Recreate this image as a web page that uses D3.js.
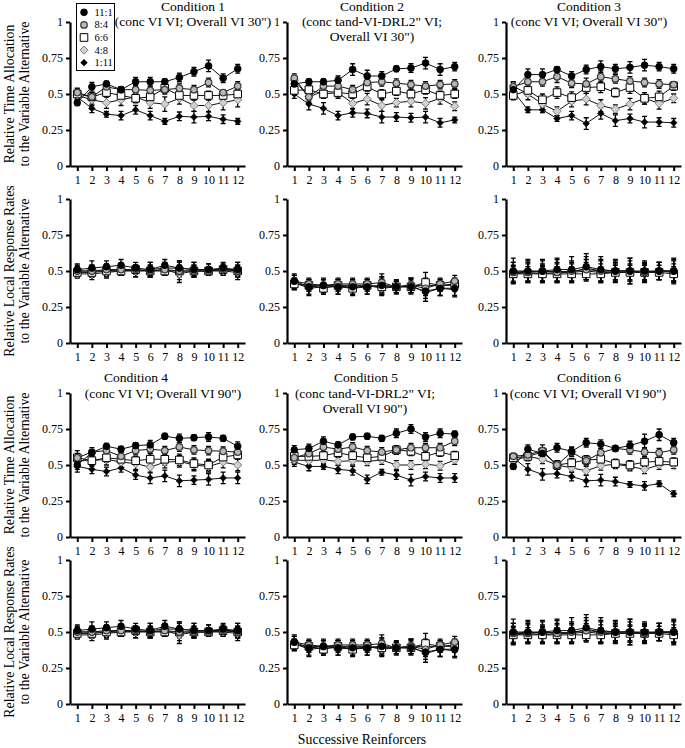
<!DOCTYPE html>
<html>
<head>
<meta charset="utf-8">
<script src="https://cdn.jsdelivr.net/npm/d3@7"></script>
<style>
body { margin: 0; background: #fff; }
svg text { font-family: "Liberation Serif", "Times New Roman", serif; fill: #000; }
</style>
</head>
<body>
<svg id="chart" width="685" height="748"></svg>
<script>
// categories
const reinforcers = [1, 2, 3, 4, 5, 6, 7, 8, 9, 10, 11, 12];
const seriesNames = ["11:1", "8:4", "6:6", "4:8", "1:11"];
const yTicks = [0, 0.25, 0.5, 0.75, 1];

const titles = [
    ["Condition 1", "(conc VI VI; Overall VI 30\")"],
    ["Condition 2", "(conc tand-VI-DRL2\" VI;", "Overall VI 30\")"],
    ["Condition 3", "(conc VI VI; Overall VI 30\")"],
    ["Condition 4", "(conc VI VI; Overall VI 90\")"],
    ["Condition 5", "(conc tand-VI-DRL2\" VI;", "Overall VI 90\")"],
    ["Condition 6", "(conc VI VI; Overall VI 90\")"]
];

// relative time allocation, rows = 11:1, 8:4, 6:6, 4:8, 1:11
const time1 = [
    [0.44,0.55,0.57,0.53,0.585,0.585,0.585,0.615,0.655,0.695,0.61,0.675],
    [0.51,0.48,0.55,0.53,0.53,0.525,0.53,0.54,0.53,0.58,0.51,0.555],
    [0.50,0.48,0.51,0.49,0.47,0.48,0.54,0.49,0.49,0.49,0.49,0.50],
    [0.49,0.46,0.44,0.46,0.48,0.44,0.43,0.47,0.42,0.42,0.44,0.46],
    [0.48,0.40,0.36,0.35,0.39,0.35,0.31,0.345,0.34,0.345,0.325,0.31]
];
const time1Err = [
    [0.02,0.03,0.02,0.02,0.03,0.03,0.02,0.03,0.03,0.04,0.03,0.03],
    [0.03,0.03,0.03,0.02,0.03,0.03,0.03,0.03,0.03,0.03,0.02,0.03],
    [0.03,0.03,0.03,0.03,0.03,0.03,0.03,0.03,0.03,0.03,0.03,0.03],
    [0.03,0.04,0.04,0.04,0.04,0.04,0.05,0.04,0.04,0.04,0.05,0.05],
    [0.03,0.03,0.02,0.03,0.03,0.03,0.02,0.03,0.04,0.03,0.03,0.02]
];
const time2 = [
    [0.57,0.585,0.585,0.595,0.67,0.625,0.625,0.675,0.68,0.715,0.67,0.69],
    [0.61,0.48,0.555,0.555,0.53,0.58,0.585,0.575,0.565,0.555,0.565,0.57],
    [0.525,0.53,0.50,0.51,0.50,0.55,0.50,0.52,0.50,0.53,0.49,0.50],
    [0.595,0.48,0.52,0.51,0.435,0.465,0.42,0.44,0.45,0.435,0.47,0.415],
    [0.50,0.43,0.40,0.35,0.37,0.365,0.34,0.34,0.335,0.34,0.30,0.32]
];
const time2Err = [
    [0.03,0.02,0.02,0.03,0.04,0.04,0.03,0.02,0.03,0.04,0.04,0.03],
    [0.03,0.03,0.03,0.03,0.03,0.03,0.03,0.03,0.03,0.03,0.03,0.03],
    [0.03,0.03,0.03,0.03,0.03,0.03,0.03,0.03,0.03,0.03,0.03,0.03],
    [0.03,0.04,0.04,0.04,0.04,0.04,0.04,0.03,0.04,0.04,0.04,0.03],
    [0.03,0.04,0.04,0.03,0.03,0.03,0.04,0.03,0.03,0.04,0.03,0.02]
];
const time3 = [
    [0.53,0.635,0.635,0.67,0.625,0.67,0.69,0.675,0.685,0.70,0.69,0.675],
    [0.55,0.585,0.585,0.62,0.575,0.57,0.62,0.605,0.59,0.58,0.57,0.565],
    [0.49,0.525,0.46,0.51,0.475,0.545,0.55,0.51,0.545,0.47,0.48,0.555],
    [0.555,0.50,0.43,0.38,0.45,0.465,0.42,0.395,0.43,0.47,0.435,0.47],
    [0.52,0.39,0.39,0.33,0.35,0.295,0.365,0.315,0.33,0.305,0.305,0.30]
];
const time3Err = [
    [0.03,0.04,0.04,0.02,0.03,0.03,0.04,0.03,0.04,0.04,0.03,0.03],
    [0.03,0.03,0.03,0.04,0.03,0.04,0.04,0.03,0.03,0.03,0.03,0.02],
    [0.03,0.04,0.04,0.04,0.04,0.04,0.04,0.03,0.04,0.04,0.04,0.03],
    [0.03,0.04,0.04,0.03,0.04,0.04,0.04,0.03,0.04,0.04,0.04,0.03],
    [0.03,0.02,0.02,0.02,0.03,0.04,0.04,0.04,0.03,0.04,0.03,0.03]
];
const time4 = [
    [0.50,0.585,0.63,0.61,0.635,0.64,0.70,0.685,0.69,0.695,0.685,0.63],
    [0.55,0.59,0.60,0.56,0.60,0.61,0.60,0.625,0.605,0.60,0.595,0.59],
    [0.55,0.53,0.55,0.54,0.53,0.54,0.54,0.535,0.51,0.50,0.555,0.57],
    [0.53,0.53,0.54,0.52,0.51,0.485,0.52,0.525,0.50,0.49,0.52,0.50],
    [0.49,0.47,0.455,0.48,0.43,0.41,0.425,0.39,0.395,0.40,0.41,0.41]
];
const time4Err = [
    [0.03,0.02,0.02,0.02,0.02,0.03,0.02,0.03,0.02,0.03,0.02,0.03],
    [0.03,0.03,0.03,0.03,0.03,0.03,0.03,0.03,0.03,0.03,0.03,0.03],
    [0.05,0.03,0.03,0.03,0.03,0.04,0.04,0.04,0.04,0.04,0.04,0.03],
    [0.04,0.04,0.04,0.04,0.04,0.04,0.04,0.04,0.04,0.04,0.04,0.04],
    [0.04,0.03,0.03,0.03,0.03,0.04,0.04,0.04,0.03,0.04,0.04,0.04]
];
const time5 = [
    [0.605,0.615,0.665,0.64,0.695,0.70,0.685,0.72,0.75,0.695,0.72,0.715],
    [0.55,0.58,0.625,0.61,0.625,0.60,0.59,0.605,0.62,0.62,0.62,0.665],
    [0.56,0.56,0.565,0.585,0.565,0.55,0.56,0.605,0.595,0.56,0.59,0.565],
    [0.535,0.53,0.535,0.525,0.53,0.525,0.535,0.50,0.50,0.505,0.495,0.535],
    [0.52,0.49,0.49,0.47,0.46,0.40,0.45,0.43,0.395,0.42,0.41,0.41]
];
const time5Err = [
    [0.03,0.03,0.03,0.02,0.02,0.02,0.02,0.03,0.03,0.03,0.03,0.02],
    [0.03,0.03,0.03,0.03,0.03,0.03,0.03,0.03,0.03,0.03,0.03,0.03],
    [0.03,0.03,0.03,0.03,0.03,0.03,0.03,0.03,0.03,0.03,0.03,0.03],
    [0.03,0.03,0.03,0.03,0.03,0.03,0.03,0.03,0.03,0.03,0.03,0.03],
    [0.03,0.03,0.02,0.03,0.03,0.03,0.02,0.03,0.04,0.03,0.03,0.03]
];
const time6 = [
    [0.49,0.61,0.58,0.62,0.595,0.655,0.645,0.615,0.635,0.665,0.71,0.655],
    [0.56,0.57,0.60,0.50,0.59,0.53,0.585,0.615,0.605,0.59,0.585,0.605],
    [0.55,0.56,0.59,0.50,0.515,0.535,0.54,0.51,0.50,0.52,0.525,0.52],
    [0.53,0.56,0.54,0.50,0.48,0.46,0.495,0.505,0.49,0.47,0.50,0.505],
    [0.55,0.47,0.435,0.44,0.42,0.39,0.395,0.385,0.365,0.355,0.37,0.30]
];
const time6Err = [
    [0.02,0.03,0.04,0.03,0.03,0.03,0.03,0.02,0.03,0.05,0.04,0.03],
    [0.02,0.03,0.04,0.03,0.03,0.03,0.03,0.02,0.03,0.03,0.03,0.03],
    [0.02,0.03,0.03,0.03,0.03,0.03,0.03,0.03,0.03,0.03,0.03,0.03],
    [0.02,0.03,0.03,0.03,0.03,0.03,0.03,0.03,0.03,0.03,0.03,0.03],
    [0.03,0.04,0.04,0.03,0.03,0.04,0.04,0.03,0.02,0.03,0.02,0.02]
];

// relative local response rates
const local1 = [
    [0.51,0.52,0.53,0.54,0.52,0.51,0.54,0.52,0.51,0.51,0.52,0.51],
    [0.50,0.50,0.51,0.51,0.51,0.50,0.51,0.50,0.50,0.50,0.51,0.50],
    [0.49,0.49,0.50,0.50,0.51,0.50,0.50,0.50,0.50,0.50,0.51,0.50],
    [0.48,0.48,0.49,0.50,0.50,0.50,0.51,0.48,0.50,0.50,0.50,0.49],
    [0.50,0.50,0.50,0.51,0.50,0.51,0.52,0.52,0.51,0.51,0.51,0.51]
];
const local1Err = [
    [0.04,0.05,0.04,0.04,0.04,0.05,0.04,0.05,0.05,0.04,0.04,0.05],
    [0.03,0.04,0.04,0.04,0.03,0.04,0.04,0.06,0.04,0.03,0.03,0.04],
    [0.03,0.03,0.03,0.03,0.03,0.03,0.03,0.04,0.03,0.03,0.03,0.03],
    [0.03,0.04,0.04,0.03,0.04,0.04,0.04,0.06,0.04,0.03,0.03,0.05],
    [0.04,0.04,0.04,0.04,0.04,0.05,0.04,0.05,0.05,0.04,0.04,0.05]
];
const local2 = [
    [0.43,0.39,0.40,0.39,0.39,0.39,0.40,0.39,0.39,0.36,0.38,0.38],
    [0.43,0.41,0.40,0.41,0.41,0.41,0.42,0.39,0.40,0.38,0.41,0.43],
    [0.41,0.40,0.38,0.40,0.38,0.40,0.39,0.39,0.39,0.42,0.40,0.41],
    [0.41,0.40,0.40,0.40,0.40,0.40,0.38,0.39,0.40,0.40,0.40,0.40],
    [0.42,0.38,0.39,0.39,0.38,0.39,0.40,0.39,0.40,0.35,0.38,0.37]
];
const local2Err = [
    [0.05,0.05,0.05,0.05,0.05,0.05,0.05,0.05,0.05,0.05,0.05,0.05],
    [0.04,0.04,0.04,0.04,0.04,0.04,0.06,0.04,0.05,0.05,0.04,0.04],
    [0.04,0.04,0.04,0.04,0.04,0.04,0.05,0.04,0.04,0.07,0.04,0.04],
    [0.04,0.04,0.04,0.04,0.04,0.04,0.05,0.04,0.05,0.05,0.04,0.04],
    [0.05,0.05,0.05,0.05,0.05,0.05,0.06,0.04,0.05,0.06,0.05,0.05]
];
const local3 = [
    [0.50,0.50,0.50,0.51,0.51,0.53,0.51,0.50,0.50,0.50,0.50,0.50],
    [0.49,0.49,0.50,0.49,0.50,0.51,0.50,0.50,0.50,0.49,0.50,0.50],
    [0.48,0.48,0.48,0.48,0.48,0.48,0.48,0.49,0.49,0.49,0.49,0.48],
    [0.48,0.49,0.48,0.49,0.49,0.50,0.49,0.49,0.49,0.49,0.50,0.49],
    [0.49,0.50,0.49,0.50,0.49,0.52,0.50,0.50,0.50,0.49,0.50,0.50]
];
const local3Err = [
    [0.09,0.08,0.08,0.08,0.09,0.09,0.09,0.08,0.09,0.07,0.06,0.09],
    [0.07,0.07,0.07,0.07,0.07,0.07,0.07,0.06,0.07,0.06,0.06,0.07],
    [0.05,0.05,0.05,0.05,0.05,0.05,0.05,0.05,0.05,0.05,0.05,0.05],
    [0.06,0.06,0.06,0.06,0.06,0.06,0.06,0.06,0.06,0.06,0.06,0.06],
    [0.07,0.07,0.06,0.08,0.07,0.08,0.08,0.07,0.09,0.07,0.06,0.08]
];
// the lower local-rate panels repeat the upper ones in the figure
const local4 = local1.map(r => r.slice());
const local4Err = local1Err.map(r => r.slice());
const local5 = local2.map(r => r.slice());
const local5Err = local2Err.map(r => r.slice());
const local6 = local3.map(r => r.slice());
const local6Err = local3Err.map(r => r.slice());

const svg = d3.select("#chart");

const colX = [70, 287, 506];
const rowTop = [22, 199, 393, 560];
const plotW = 175, plotH = 144;

// marker styles per series
const markers = [
    {shape: "circle", r: 3.4, fill: "#000", stroke: "#000", sw: 0.8},
    {shape: "circle", r: 3.3, fill: "#b8b8b8", stroke: "#3c3c3c", sw: 1.2},
    {shape: "square", r: 3.8, fill: "#fff", stroke: "#000", sw: 1},
    {shape: "diamond", r: 4.1, fill: "#d0d0d0", stroke: "#808080", sw: 1},
    {shape: "diamond", r: 3.4, fill: "#000", stroke: "#000", sw: 0.5}
];

function markerPath(m){
    let r = m.r;
    if (m.shape == "circle") return `M${r},0A${r},${r},0,1,1,${-r},0A${r},${r},0,1,1,${r},0Z`;
    if (m.shape == "square") return `M${-r},${-r}H${r}V${r}H${-r}Z`;
    return `M0,${-r}L${r},0L0,${r}L${-r},0Z`;
}

function drawPanel(col, row, values, errors){
    let x = d3.scaleLinear().domain([0.5, 12.5]).range([colX[col], colX[col] + plotW]);
    let y = d3.scaleLinear().domain([0, 1]).range([rowTop[row] + plotH, rowTop[row]]);
    let g = svg.append("g");

    let line = d3.line().x((d, i) => x(reinforcers[i])).y(d => y(d));
    values.forEach((vals, s) => {
        g.append("path")
            .attr("d", line(vals))
            .attr("fill", "none")
            .attr("stroke", "#111")
            .attr("stroke-width", 1);
    });

    values.forEach((vals, s) => {
        vals.forEach((v, i) => {
            let e = errors[s][i];
            let cx = x(reinforcers[i]);
            g.append("path")
                .attr("d", `M${cx},${y(v - e)}V${y(v + e)}M${cx - 2.5},${y(v - e)}H${cx + 2.5}M${cx - 2.5},${y(v + e)}H${cx + 2.5}`)
                .attr("stroke", "#000")
                .attr("stroke-width", 1.3)
                .attr("fill", "none");
        });
    });

    for (let s = values.length - 1; s >= 0; s--) {
        let m = markers[s];
        values[s].forEach((v, i) => {
            g.append("path")
                .attr("d", markerPath(m))
                .attr("transform", `translate(${x(reinforcers[i])},${y(v)})`)
                .attr("fill", m.fill)
                .attr("stroke", m.stroke)
                .attr("stroke-width", m.sw);
        });
    }

    let yAxis = g.append("g")
        .attr("transform", `translate(${colX[col]},0)`)
        .call(d3.axisLeft(y).tickValues(yTicks).tickSize(4).tickSizeOuter(0).tickPadding(3)
            .tickFormat(d => String(d)));
    let xAxis = g.append("g")
        .attr("transform", `translate(0,${rowTop[row] + plotH})`)
        .call(d3.axisBottom(x).tickValues(reinforcers).tickSize(5).tickSizeOuter(0).tickPadding(4));
    [yAxis, xAxis].forEach(a => {
        a.select(".domain").attr("stroke-width", 2.2).attr("stroke", "#000");
        a.selectAll(".tick line").attr("stroke-width", 2).attr("stroke", "#000");
        a.selectAll(".tick text").style("font-size", "12px").attr("fill", "#000")
            .style("font-family", '"Liberation Serif", "Times New Roman", serif');
    });
    xAxis.selectAll(".tick text").attr("dy", "0.71em");
}

const timeData = [time1, time2, time3, time4, time5, time6];
const timeErr = [time1Err, time2Err, time3Err, time4Err, time5Err, time6Err];
const localData = [local1, local2, local3, local4, local5, local6];
const localErr = [local1Err, local2Err, local3Err, local4Err, local5Err, local6Err];

for (let c = 0; c < 6; c++) {
    let col = c % 3;
    let block = Math.floor(c / 3);
    drawPanel(col, block * 2, timeData[c], timeErr[c]);
    drawPanel(col, block * 2 + 1, localData[c], localErr[c]);
}

// panel titles
const titleX = [[193, 372, 589], [136, 366, 589]];
const subX = [[193, 372, 589], [163, 365, 588]];
const titleY = [[11, 26, 41], [382, 398, 413]];
titles.forEach((t, c) => {
    let col = c % 3, block = Math.floor(c / 3);
    t.forEach((txt, k) => {
        svg.append("text")
            .attr("x", k == 0 ? titleX[block][col] : subX[block][col])
            .attr("y", titleY[block][k])
            .attr("text-anchor", "middle")
            .style("font-size", "13.5px")
            .text(txt);
    });
});

// y-axis labels
const yLabels = [
    ["Relative Time Allocation", "to the Variable Alternative"],
    ["Relative Local Response Rates", "to the Variable Alternative"]
];
rowTop.forEach((top, r) => {
    let lines = yLabels[r % 2];
    let cy = top + plotH / 2;
    lines.forEach((txt, k) => {
        svg.append("text")
            .attr("transform", `translate(${14 + k * 15},${cy}) rotate(-90)`)
            .attr("text-anchor", "middle")
            .style("font-size", "13.8px")
            .text(txt);
    });
});

svg.append("text")
    .attr("x", 362)
    .attr("y", 744)
    .attr("text-anchor", "middle")
    .style("font-size", "13.8px")
    .text("Successive Reinforcers");

// legend
let legend = svg.append("g");
legend.append("rect")
    .attr("x", 76.5).attr("y", 3.5).attr("width", 38).attr("height", 67)
    .attr("fill", "#fff").attr("stroke", "#000").attr("stroke-width", 1);
seriesNames.forEach((name, s) => {
    let ly = 12.3 + s * 12.6;
    legend.append("path")
        .attr("d", markerPath(markers[s]))
        .attr("transform", `translate(84,${ly})`)
        .attr("fill", markers[s].fill)
        .attr("stroke", markers[s].stroke)
        .attr("stroke-width", markers[s].sw);
    legend.append("text")
        .attr("x", 94.5)
        .attr("y", ly + 3.5)
        .style("font-size", "10.5px")
        .text(name);
});
</script>
</body>
</html>
